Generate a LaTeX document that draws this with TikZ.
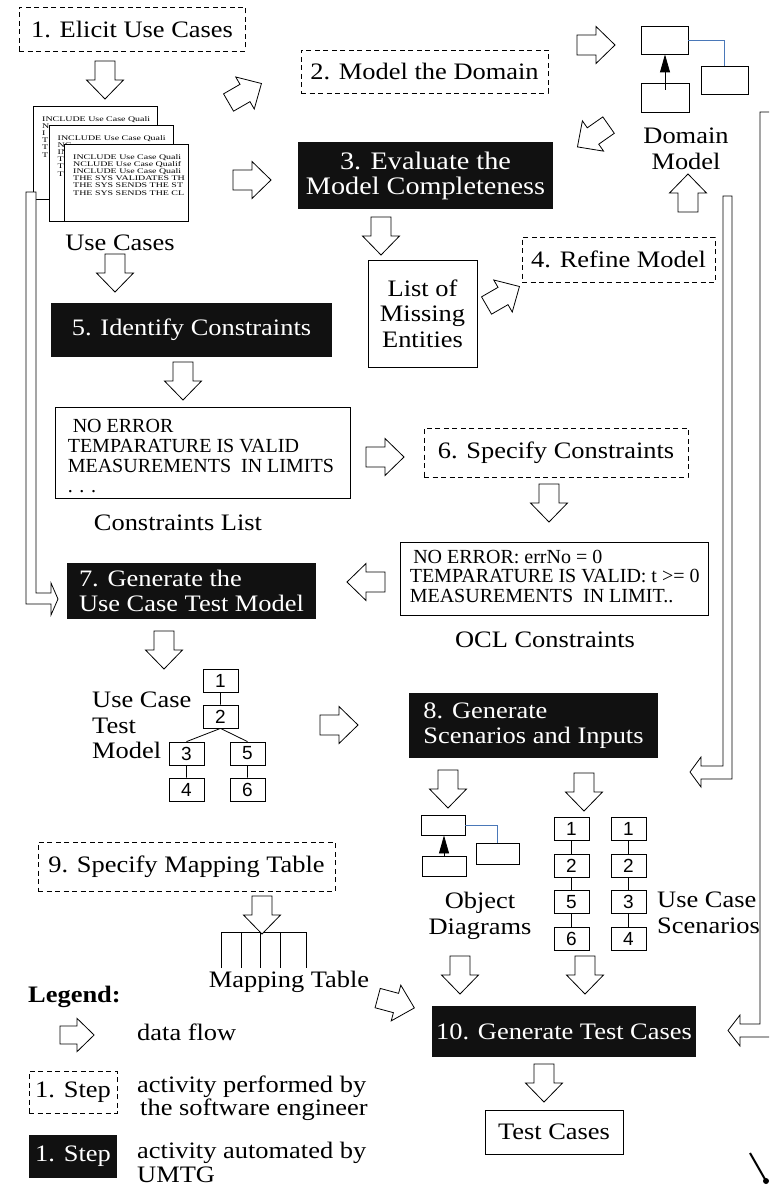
\documentclass[tikz,border=0pt]{standalone}
\usepackage{fontspec}
\setmainfont{Liberation Serif}[FakeStretch=1.12]
\setsansfont{Liberation Sans}
\newfontfamily\plainserif{Liberation Serif}
\newfontfamily\pageserif{Liberation Serif}[FakeStretch=1.4]
\usetikzlibrary{arrows.meta}

\definecolor{boxblack}{HTML}{111111}
\definecolor{assocblue}{HTML}{4A78B8}

\tikzset{
  txt/.style={font=\fontsize{23.6}{25.5}\selectfont, inner sep=0pt},
  manual/.style={txt, draw, dash pattern=on 5pt off 3.5pt, line width=0.8pt},
  umtg/.style={txt, fill=boxblack, text=white},
  doc/.style={draw, fill=white, line width=0.8pt, inner sep=0pt},
  ucpage/.style={doc, minimum width=124, anchor=north west},
  pagetxt/.style={font=\pageserif\fontsize{7.1}{7.2}\selectfont, align=left,
    inner sep=0pt, anchor=north west},
  constr/.style={font=\plainserif\fontsize{20}{19.5}\selectfont, align=left,
    inner sep=0pt, anchor=north west},
  numbox/.style={draw, line width=0.8pt, minimum width=35, minimum height=23,
    inner sep=0pt, font=\sffamily\fontsize{19}{19}\selectfont},
  cls/.style={draw, line width=0.8pt, inner sep=0pt},
  inherit/.style={line width=0.8pt, -{Triangle[length=18pt,width=10pt]}},
  assoc/.style={assocblue, line width=0.8pt},
  fatline/.style={line width=0.8pt, fill=white},
  pics/flow/.style={code={
    \draw[fatline] (-19,-10) -- (0,-10) -- (0,-18.5) -- (19,0)
      -- (0,18.5) -- (0,10) -- (-19,10) -- cycle;}},
}

\begin{document}
\begin{tikzpicture}[x=1pt, y=-1pt]
\useasboundingbox (0,0) rectangle (769,1188);
\clip (0,0) rectangle (769,1188);

% activities
\node[manual, minimum width=226, minimum height=44] (elicit) at (132,29) {1. Elicit Use Cases};
\node[manual, minimum width=247, minimum height=43] (modeldom) at (424.5,71.5) {2. Model the Domain};
\node[umtg, minimum width=255, minimum height=67, align=center,
  font=\fontsize{25.2}{25}\selectfont] (evaluate) at (425.5,175.5)
  {3. Evaluate the\\Model Completeness};
\node[manual, minimum width=193, minimum height=45] (refine) at (618.5,259.5) {4. Refine Model};
\node[umtg, minimum width=281, minimum height=54] (identify) at (191.5,330) {5. Identify Constraints};
\node[manual, minimum width=264, minimum height=49] (specify) at (556,452.5) {6. Specify Constraints};
\node[umtg, minimum width=249, minimum height=56, align=left] (generate) at (191.5,591)
  {7. Generate the\\Use Case Test Model};
\node[umtg, minimum width=249, minimum height=65, align=left] (scen) at (533.5,725.5)
  {8. Generate\\Scenarios and Inputs};
\node[manual, minimum width=297, minimum height=49] (specmap) at (186.5,866.5) {9. Specify Mapping Table};
\node[umtg, minimum width=264, minimum height=51] (gentest) at (564,1031.5) {10. Generate Test Cases};

% use case documents, each one partly hidden by the next
\foreach \k/\h/\body in {0/93/{INCLUDE Use Case Quali\\N\\I\\T\\T\\T},
    1/96/{INCLUDE Use Case Quali\\NC\\IN\\TH\\TH\\TH},
    2/77/{INCLUDE Use Case Quali\\NCLUDE Use Case Qualif\\INCLUDE Use Case Quali\\
      THE SYS VALIDATES TH\\THE SYS SENDS THE ST\\THE SYS SENDS THE CL}}{
  \node[ucpage, minimum height=\h] (uc\k) at ({33+15.5*\k},{106+19*\k}) {};
  \node[pagetxt] (uctxt\k) at ([xshift=9pt,yshift=-10pt]uc\k.north west) {\body};
}
\node[txt, anchor=base] (uclbl) at (120,250) {Use Cases};

% domain model
\node[cls, minimum width=47, minimum height=28] (dm1) at (664.5,40) {};
\node[cls, minimum width=48, minimum height=29] (dm2) at (665,97.5) {};
\node[cls, minimum width=47, minimum height=28] (dm3) at (724.5,80) {};
\draw[inherit] ([yshift=-7pt]dm2.north) -- (dm2.north |- dm1.south);
\draw[assoc] (dm1.east) -| (dm3.north);
\node[txt, align=center, anchor=north] (dmlbl) at (686,128) {Domain\\Model};

\node[doc, minimum width=109, minimum height=107, txt, align=center] (missing) at (422.5,313.5)
  {List of\\Missing\\Entities};

% constraints
\node[doc, minimum width=295, minimum height=91] (conlist) at (202.5,452.5) {};
\node[constr] (contxt) at ([xshift=13pt,yshift=-12.5pt]conlist.north west)
  {\hspace*{5pt}NO ERROR\\[0.5pt]TEMPARATURE IS VALID\\[0.5pt]MEASUREMENTS\ \ IN LIMITS\\[0.5pt]. . .};
\node[txt, anchor=base] (conlbl) at (178,530) {Constraints List};

\node[doc, minimum width=308, minimum height=73] (ocl) at (554,578.5) {};
\node[constr] (ocltxt) at ([xshift=10pt,yshift=-8pt]ocl.north west)
  {\hspace*{3.5pt}NO ERROR: errNo = 0\\TEMPARATURE IS VALID: t >= 0\\MEASUREMENTS\ \ IN LIMIT..};
\node[txt, anchor=base] (ocllbl) at (545,647) {OCL Constraints};

% use case test model
\node[numbox] (t1) at (220.5,680.5) {1};
\node[numbox] (t2) at (220.5,716.5) {2};
\node[numbox] (t3) at (186.5,753.5) {3};
\node[numbox] (t5) at (247.5,753.5) {5};
\node[numbox] (t4) at (186.5,789.5) {4};
\node[numbox] (t6) at (247.5,789.5) {6};
\draw[line width=0.8pt] (t1) -- (t2) (t3) -- (t4) (t5) -- (t6)
  (t2.south) -- (t3.north) (t2.south) -- (t5.north);
\node[txt, align=left, anchor=north west] (tmlbl) at (92,692) {Use Case\\Test\\Model};

% object diagrams
\node[cls, minimum width=44, minimum height=20] (od1) at (443,825) {};
\node[cls, minimum width=44, minimum height=20] (od2) at (444,866) {};
\node[cls, minimum width=43, minimum height=21] (od3) at (497.5,853.5) {};
\draw[inherit] ([yshift=-1pt]od2.north) -- (od2.north |- od1.south);
\draw[assoc] (od1.east) -| (od3.north);
\node[txt, align=center, anchor=north] (odlbl) at (480,892) {Object\\Diagrams};

% scenarios
\foreach \lbl [count=\i] in {1,2,5,6}
  \node[numbox] (sa\i) at (571.5,{792.5+36.5*\i}) {\lbl};
\foreach \lbl [count=\i] in {1,2,3,4}
  \node[numbox] (sb\i) at (628.5,{792.5+36.5*\i}) {\lbl};
\foreach \i/\j in {1/2,2/3,3/4}
  \draw[line width=0.8pt] (sa\i) -- (sa\j) (sb\i) -- (sb\j);
\node[txt, align=left, anchor=north west] (sclbl) at (657,892) {Use Case\\Scenarios};

% mapping table
\draw[line width=0.8pt] (221,968) |- (306,932) -- (306,968);
\foreach \x in {241,260,280}
  \draw[line width=0.8pt] (\x,932) -- (\x,968);
\node[txt, anchor=base] (maplbl) at (289,987) {Mapping Table};

\node[doc, txt, minimum width=138, minimum height=44] (testcases) at (554,1132) {Test Cases};

% data flows
\pic[rotate=-90] (f1) at (105,80) {flow};
\pic[rotate=30] (f2) at (245,93) {flow};
\pic (f3) at (252,180) {flow};
\pic (f4) at (596,45) {flow};
\pic[rotate=215] (f5) at (593,136) {flow};
\pic[rotate=-90] (f6) at (381,236) {flow};
\pic[rotate=30] (f7) at (503,296) {flow};
\pic[rotate=90] (f8) at (688,193) {flow};
\pic[rotate=-90] (f9) at (115,273) {flow};
\pic[rotate=-90] (f10) at (183,381) {flow};
\pic (f11) at (385,457) {flow};
\pic[rotate=-90] (f12) at (549,503) {flow};
\pic[rotate=180] (f13) at (366,582) {flow};
\pic[rotate=-90] (f14) at (164,650) {flow};
\pic (f15) at (339,725) {flow};
\pic[rotate=-90] (f16) at (448,789) {flow};
\pic[rotate=-90] (f17) at (584,792) {flow};
\pic[rotate=-90] (f18) at (262,915) {flow};
\pic[rotate=-15] (f19) at (396,1003) {flow};
\pic[rotate=-90] (f20) at (460,975) {flow};
\pic[rotate=-90] (f21) at (585,975) {flow};
\pic[rotate=-90] (f22) at (544,1083) {flow};

% long flows
\draw[fatline] (26,192) -- (36,192) -- (36,593) -- (51,593) -- (51,583) -- (58,599)
  -- (51,615) -- (51,604) -- (26,604) -- cycle;
\draw[fatline] (723,196) -- (732,196) -- (732,779) -- (701,779) -- (701,787) -- (690,772)
  -- (701,757) -- (701,766) -- (723,766) -- cycle;
\draw[fatline] (775,112) -- (760,112) -- (760,1024) -- (740,1024) -- (740,1015) -- (728,1030.5)
  -- (740,1046) -- (740,1037) -- (775,1037);

% legend
\node[txt, anchor=base west, font=\bfseries\fontsize{23.6}{25.5}\selectfont] (leg) at (28,1002) {Legend:};
\pic[scale=0.9] (legflow) at (77,1035) {flow};
\node[txt, anchor=base west] (legflowtxt) at (137,1040) {data flow};
\node[manual, minimum width=88, minimum height=42] (legman) at (73,1092) {1. Step};
\node[txt, align=left, anchor=north west, font=\fontsize{23.6}{21}\selectfont] (legmantxt) at (137,1076)
  {activity performed by\\\hspace*{3pt}the software engineer};
\node[umtg, minimum width=88, minimum height=43] (legauto) at (73,1156.5) {1. Step};
\node[txt, align=left, anchor=north west, font=\fontsize{23.6}{24}\selectfont] (legautotxt) at (137,1142)
  {activity automated by\\UMTG};

\draw[line width=2pt] (750,1153) -- (766,1181);
\fill (766,1181) circle (3);
\end{tikzpicture}
\end{document}
